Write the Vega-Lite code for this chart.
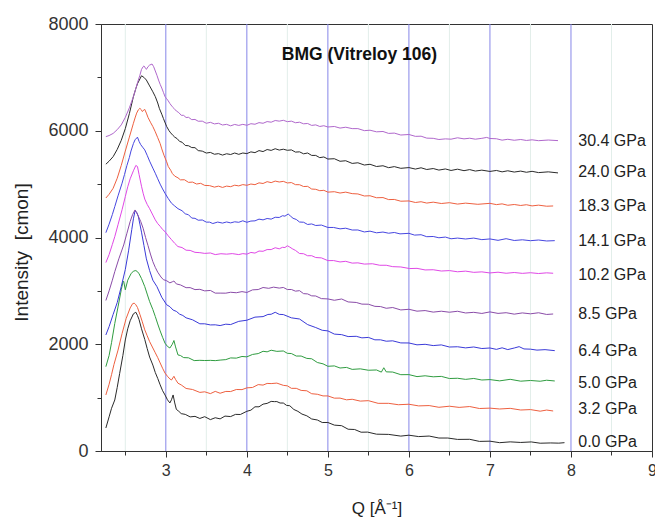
{
"$schema": "https://vega.github.io/schema/vega-lite/v6.json",
"width": 551, "height": 427,
"autosize": "none",
"padding": {"left": 101, "top": 24, "right": 3, "bottom": 72},
"background": "white",
"config": {"font": "Liberation Sans", "view": {"stroke": "#333333", "strokeWidth": 1}},
"resolve": {"axis": {"x": "independent", "y": "independent"}},
"datasets": {
"curves": [
{"p":"0.0","q":2.26,"i":431},{"p":"0.0","q":2.30,"i":640},{"p":"0.0","q":2.33,"i":800},{"p":"0.0","q":2.37,"i":956},{"p":"0.0","q":2.40,"i":1190},{"p":"0.0","q":2.43,"i":1450},{"p":"0.0","q":2.47,"i":1790},{"p":"0.0","q":2.50,"i":2080},{"p":"0.0","q":2.53,"i":2290},{"p":"0.0","q":2.56,"i":2440},{"p":"0.0","q":2.60,"i":2570},{"p":"0.0","q":2.63,"i":2600},{"p":"0.0","q":2.65,"i":2540},{"p":"0.0","q":2.67,"i":2460},{"p":"0.0","q":2.70,"i":2290},{"p":"0.0","q":2.74,"i":2090},{"p":"0.0","q":2.77,"i":1920},{"p":"0.0","q":2.80,"i":1760},{"p":"0.0","q":2.84,"i":1610},{"p":"0.0","q":2.87,"i":1470},{"p":"0.0","q":2.90,"i":1360},{"p":"0.0","q":2.93,"i":1240},{"p":"0.0","q":2.96,"i":1130},{"p":"0.0","q":2.99,"i":1050},{"p":"0.0","q":3.02,"i":960},{"p":"0.0","q":3.05,"i":900},{"p":"0.0","q":3.07,"i":960},{"p":"0.0","q":3.09,"i":1050},{"p":"0.0","q":3.11,"i":900},{"p":"0.0","q":3.13,"i":780},{"p":"0.0","q":3.16,"i":744},{"p":"0.0","q":3.19,"i":700},{"p":"0.0","q":3.24,"i":686},{"p":"0.0","q":3.30,"i":639},{"p":"0.0","q":3.36,"i":649},{"p":"0.0","q":3.42,"i":610},{"p":"0.0","q":3.48,"i":643},{"p":"0.0","q":3.55,"i":588},{"p":"0.0","q":3.61,"i":623},{"p":"0.0","q":3.67,"i":602},{"p":"0.0","q":3.73,"i":654},{"p":"0.0","q":3.80,"i":645},{"p":"0.0","q":3.86,"i":686},{"p":"0.0","q":3.92,"i":684},{"p":"0.0","q":4.00,"i":744},{"p":"0.0","q":4.05,"i":765},{"p":"0.0","q":4.10,"i":828},{"p":"0.0","q":4.15,"i":828},{"p":"0.0","q":4.20,"i":878},{"p":"0.0","q":4.25,"i":892},{"p":"0.0","q":4.30,"i":929},{"p":"0.0","q":4.34,"i":925},{"p":"0.0","q":4.37,"i":926},{"p":"0.0","q":4.41,"i":899},{"p":"0.0","q":4.45,"i":899},{"p":"0.0","q":4.49,"i":855},{"p":"0.0","q":4.53,"i":848},{"p":"0.0","q":4.58,"i":778},{"p":"0.0","q":4.63,"i":743},{"p":"0.0","q":4.68,"i":692},{"p":"0.0","q":4.74,"i":659},{"p":"0.0","q":4.80,"i":600},{"p":"0.0","q":4.87,"i":581},{"p":"0.0","q":4.93,"i":534},{"p":"0.0","q":5.00,"i":534},{"p":"0.0","q":5.08,"i":485},{"p":"0.0","q":5.17,"i":474},{"p":"0.0","q":5.25,"i":408},{"p":"0.0","q":5.33,"i":403},{"p":"0.0","q":5.41,"i":352},{"p":"0.0","q":5.49,"i":354},{"p":"0.0","q":5.60,"i":315},{"p":"0.0","q":5.75,"i":311},{"p":"0.0","q":5.90,"i":279},{"p":"0.0","q":6.00,"i":296},{"p":"0.0","q":6.12,"i":270},{"p":"0.0","q":6.25,"i":280},{"p":"0.0","q":6.37,"i":243},{"p":"0.0","q":6.48,"i":243},{"p":"0.0","q":6.60,"i":217},{"p":"0.0","q":6.75,"i":219},{"p":"0.0","q":6.87,"i":180},{"p":"0.0","q":7.00,"i":184},{"p":"0.0","q":7.12,"i":156},{"p":"0.0","q":7.25,"i":171},{"p":"0.0","q":7.38,"i":160},{"p":"0.0","q":7.51,"i":170},{"p":"0.0","q":7.62,"i":146},{"p":"0.0","q":7.75,"i":151},{"p":"0.0","q":7.85,"i":147},{"p":"0.0","q":7.92,"i":156},

{"p":"3.2","q":2.26,"i":1050},{"p":"3.2","q":2.30,"i":1250},{"p":"3.2","q":2.33,"i":1430},{"p":"3.2","q":2.36,"i":1620},{"p":"3.2","q":2.41,"i":1890},{"p":"3.2","q":2.46,"i":2200},{"p":"3.2","q":2.51,"i":2480},{"p":"3.2","q":2.56,"i":2680},{"p":"3.2","q":2.59,"i":2760},{"p":"3.2","q":2.61,"i":2770},{"p":"3.2","q":2.63,"i":2740},{"p":"3.2","q":2.65,"i":2690},{"p":"3.2","q":2.68,"i":2560},{"p":"3.2","q":2.71,"i":2420},{"p":"3.2","q":2.74,"i":2270},{"p":"3.2","q":2.77,"i":2160},{"p":"3.2","q":2.80,"i":2050},{"p":"3.2","q":2.84,"i":1930},{"p":"3.2","q":2.87,"i":1840},{"p":"3.2","q":2.90,"i":1750},{"p":"3.2","q":2.93,"i":1650},{"p":"3.2","q":2.96,"i":1550},{"p":"3.2","q":2.99,"i":1460},{"p":"3.2","q":3.02,"i":1400},{"p":"3.2","q":3.05,"i":1350},{"p":"3.2","q":3.07,"i":1330},{"p":"3.2","q":3.10,"i":1400},{"p":"3.2","q":3.12,"i":1340},{"p":"3.2","q":3.15,"i":1270},{"p":"3.2","q":3.19,"i":1238},{"p":"3.2","q":3.25,"i":1172},{"p":"3.2","q":3.33,"i":1152},{"p":"3.2","q":3.42,"i":1098},{"p":"3.2","q":3.48,"i":1109},{"p":"3.2","q":3.55,"i":1075},{"p":"3.2","q":3.61,"i":1117},{"p":"3.2","q":3.67,"i":1082},{"p":"3.2","q":3.74,"i":1116},{"p":"3.2","q":3.80,"i":1114},{"p":"3.2","q":3.87,"i":1152},{"p":"3.2","q":3.94,"i":1150},{"p":"3.2","q":4.00,"i":1183},{"p":"3.2","q":4.07,"i":1190},{"p":"3.2","q":4.14,"i":1244},{"p":"3.2","q":4.20,"i":1235},{"p":"3.2","q":4.25,"i":1266},{"p":"3.2","q":4.30,"i":1263},{"p":"3.2","q":4.37,"i":1272},{"p":"3.2","q":4.45,"i":1230},{"p":"3.2","q":4.50,"i":1221},{"p":"3.2","q":4.55,"i":1174},{"p":"3.2","q":4.61,"i":1174},{"p":"3.2","q":4.67,"i":1135},{"p":"3.2","q":4.74,"i":1128},{"p":"3.2","q":4.80,"i":1073},{"p":"3.2","q":4.87,"i":1063},{"p":"3.2","q":4.94,"i":1032},{"p":"3.2","q":5.00,"i":1032},{"p":"3.2","q":5.08,"i":990},{"p":"3.2","q":5.15,"i":991},{"p":"3.2","q":5.23,"i":959},{"p":"3.2","q":5.30,"i":969},{"p":"3.2","q":5.40,"i":935},{"p":"3.2","q":5.50,"i":943},{"p":"3.2","q":5.62,"i":893},{"p":"3.2","q":5.75,"i":893},{"p":"3.2","q":5.87,"i":867},{"p":"3.2","q":6.00,"i":876},{"p":"3.2","q":6.12,"i":845},{"p":"3.2","q":6.25,"i":851},{"p":"3.2","q":6.37,"i":819},{"p":"3.2","q":6.50,"i":839},{"p":"3.2","q":6.62,"i":817},{"p":"3.2","q":6.75,"i":833},{"p":"3.2","q":6.87,"i":796},{"p":"3.2","q":7.00,"i":803},{"p":"3.2","q":7.12,"i":787},{"p":"3.2","q":7.25,"i":799},{"p":"3.2","q":7.38,"i":768},{"p":"3.2","q":7.50,"i":776},{"p":"3.2","q":7.62,"i":746},{"p":"3.2","q":7.70,"i":767},{"p":"3.2","q":7.78,"i":750},

{"p":"5.0","q":2.26,"i":1580},{"p":"5.0","q":2.30,"i":1790},{"p":"5.0","q":2.33,"i":2030},{"p":"5.0","q":2.37,"i":2390},{"p":"5.0","q":2.41,"i":2700},{"p":"5.0","q":2.45,"i":3020},{"p":"5.0","q":2.47,"i":3160},{"p":"5.0","q":2.48,"i":3180},{"p":"5.0","q":2.50,"i":3020},{"p":"5.0","q":2.53,"i":3200},{"p":"5.0","q":2.57,"i":3320},{"p":"5.0","q":2.60,"i":3370},{"p":"5.0","q":2.63,"i":3380},{"p":"5.0","q":2.65,"i":3360},{"p":"5.0","q":2.67,"i":3320},{"p":"5.0","q":2.70,"i":3230},{"p":"5.0","q":2.74,"i":3080},{"p":"5.0","q":2.77,"i":2940},{"p":"5.0","q":2.80,"i":2800},{"p":"5.0","q":2.84,"i":2650},{"p":"5.0","q":2.87,"i":2520},{"p":"5.0","q":2.90,"i":2380},{"p":"5.0","q":2.93,"i":2250},{"p":"5.0","q":2.96,"i":2130},{"p":"5.0","q":2.99,"i":2020},{"p":"5.0","q":3.02,"i":1960},{"p":"5.0","q":3.05,"i":1930},{"p":"5.0","q":3.08,"i":2000},{"p":"5.0","q":3.10,"i":2070},{"p":"5.0","q":3.12,"i":1950},{"p":"5.0","q":3.15,"i":1800},{"p":"5.0","q":3.18,"i":1789},{"p":"5.0","q":3.22,"i":1750},{"p":"5.0","q":3.28,"i":1746},{"p":"5.0","q":3.35,"i":1694},{"p":"5.0","q":3.42,"i":1699},{"p":"5.0","q":3.48,"i":1695},{"p":"5.0","q":3.55,"i":1698},{"p":"5.0","q":3.61,"i":1693},{"p":"5.0","q":3.67,"i":1703},{"p":"5.0","q":3.74,"i":1712},{"p":"5.0","q":3.80,"i":1744},{"p":"5.0","q":3.87,"i":1740},{"p":"5.0","q":3.94,"i":1771},{"p":"5.0","q":4.00,"i":1764},{"p":"5.0","q":4.07,"i":1809},{"p":"5.0","q":4.14,"i":1825},{"p":"5.0","q":4.20,"i":1868},{"p":"5.0","q":4.25,"i":1858},{"p":"5.0","q":4.30,"i":1888},{"p":"5.0","q":4.37,"i":1867},{"p":"5.0","q":4.45,"i":1874},{"p":"5.0","q":4.50,"i":1830},{"p":"5.0","q":4.55,"i":1826},{"p":"5.0","q":4.61,"i":1779},{"p":"5.0","q":4.67,"i":1779},{"p":"5.0","q":4.74,"i":1735},{"p":"5.0","q":4.80,"i":1728},{"p":"5.0","q":4.87,"i":1658},{"p":"5.0","q":4.94,"i":1633},{"p":"5.0","q":5.00,"i":1587},{"p":"5.0","q":5.08,"i":1594},{"p":"5.0","q":5.15,"i":1555},{"p":"5.0","q":5.23,"i":1566},{"p":"5.0","q":5.30,"i":1529},{"p":"5.0","q":5.40,"i":1539},{"p":"5.0","q":5.50,"i":1513},{"p":"5.0","q":5.60,"i":1518},{"p":"5.0","q":5.66,"i":1478},{"p":"5.0","q":5.69,"i":1560},{"p":"5.0","q":5.72,"i":1483},{"p":"5.0","q":5.80,"i":1479},{"p":"5.0","q":5.90,"i":1430},{"p":"5.0","q":6.00,"i":1431},{"p":"5.0","q":6.10,"i":1394},{"p":"5.0","q":6.20,"i":1409},{"p":"5.0","q":6.30,"i":1390},{"p":"5.0","q":6.40,"i":1398},{"p":"5.0","q":6.50,"i":1358},{"p":"5.0","q":6.60,"i":1363},{"p":"5.0","q":6.70,"i":1342},{"p":"5.0","q":6.80,"i":1359},{"p":"5.0","q":6.90,"i":1330},{"p":"5.0","q":7.00,"i":1338},{"p":"5.0","q":7.12,"i":1314},{"p":"5.0","q":7.25,"i":1343},{"p":"5.0","q":7.38,"i":1308},{"p":"5.0","q":7.50,"i":1321},{"p":"5.0","q":7.62,"i":1307},{"p":"5.0","q":7.70,"i":1326},{"p":"5.0","q":7.80,"i":1312},

{"p":"6.4","q":2.26,"i":2174},{"p":"6.4","q":2.30,"i":2330},{"p":"6.4","q":2.35,"i":2560},{"p":"6.4","q":2.40,"i":2780},{"p":"6.4","q":2.45,"i":3080},{"p":"6.4","q":2.50,"i":3400},{"p":"6.4","q":2.54,"i":3750},{"p":"6.4","q":2.58,"i":4150},{"p":"6.4","q":2.60,"i":4350},{"p":"6.4","q":2.62,"i":4500},{"p":"6.4","q":2.64,"i":4470},{"p":"6.4","q":2.66,"i":4400},{"p":"6.4","q":2.68,"i":4250},{"p":"6.4","q":2.70,"i":4100},{"p":"6.4","q":2.73,"i":3850},{"p":"6.4","q":2.76,"i":3600},{"p":"6.4","q":2.80,"i":3380},{"p":"6.4","q":2.84,"i":3200},{"p":"6.4","q":2.89,"i":3080},{"p":"6.4","q":2.95,"i":2880},{"p":"6.4","q":3.01,"i":2740},{"p":"6.4","q":3.05,"i":2704},{"p":"6.4","q":3.09,"i":2640},{"p":"6.4","q":3.13,"i":2616},{"p":"6.4","q":3.17,"i":2564},{"p":"6.4","q":3.21,"i":2539},{"p":"6.4","q":3.25,"i":2495},{"p":"6.4","q":3.33,"i":2458},{"p":"6.4","q":3.42,"i":2383},{"p":"6.4","q":3.48,"i":2383},{"p":"6.4","q":3.55,"i":2362},{"p":"6.4","q":3.61,"i":2364},{"p":"6.4","q":3.67,"i":2350},{"p":"6.4","q":3.74,"i":2376},{"p":"6.4","q":3.80,"i":2369},{"p":"6.4","q":3.90,"i":2429},{"p":"6.4","q":4.00,"i":2450},{"p":"6.4","q":4.10,"i":2508},{"p":"6.4","q":4.20,"i":2518},{"p":"6.4","q":4.26,"i":2558},{"p":"6.4","q":4.30,"i":2562},{"p":"6.4","q":4.35,"i":2599},{"p":"6.4","q":4.40,"i":2560},{"p":"6.4","q":4.45,"i":2556},{"p":"6.4","q":4.55,"i":2495},{"p":"6.4","q":4.65,"i":2473},{"p":"6.4","q":4.75,"i":2368},{"p":"6.4","q":4.85,"i":2313},{"p":"6.4","q":4.93,"i":2262},{"p":"6.4","q":5.00,"i":2250},{"p":"6.4","q":5.08,"i":2190},{"p":"6.4","q":5.17,"i":2180},{"p":"6.4","q":5.25,"i":2144},{"p":"6.4","q":5.35,"i":2149},{"p":"6.4","q":5.42,"i":2120},{"p":"6.4","q":5.50,"i":2128},{"p":"6.4","q":5.58,"i":2083},{"p":"6.4","q":5.65,"i":2083},{"p":"6.4","q":5.72,"i":2057},{"p":"6.4","q":5.80,"i":2064},{"p":"6.4","q":5.90,"i":2025},{"p":"6.4","q":6.00,"i":2024},{"p":"6.4","q":6.10,"i":1989},{"p":"6.4","q":6.20,"i":1999},{"p":"6.4","q":6.30,"i":1975},{"p":"6.4","q":6.40,"i":1988},{"p":"6.4","q":6.50,"i":1948},{"p":"6.4","q":6.60,"i":1953},{"p":"6.4","q":6.70,"i":1932},{"p":"6.4","q":6.80,"i":1949},{"p":"6.4","q":6.90,"i":1920},{"p":"6.4","q":7.00,"i":1930},{"p":"6.4","q":7.08,"i":1904},{"p":"6.4","q":7.15,"i":1933},{"p":"6.4","q":7.22,"i":1900},{"p":"6.4","q":7.30,"i":1930},{"p":"6.4","q":7.36,"i":1955},{"p":"6.4","q":7.42,"i":1912},{"p":"6.4","q":7.50,"i":1908},{"p":"6.4","q":7.58,"i":1890},{"p":"6.4","q":7.68,"i":1899},{"p":"6.4","q":7.80,"i":1880},

{"p":"8.5","q":2.26,"i":2820},{"p":"8.5","q":2.30,"i":3000},{"p":"8.5","q":2.34,"i":3200},{"p":"8.5","q":2.37,"i":3360},{"p":"8.5","q":2.42,"i":3600},{"p":"8.5","q":2.48,"i":3860},{"p":"8.5","q":2.52,"i":4080},{"p":"8.5","q":2.56,"i":4300},{"p":"8.5","q":2.59,"i":4430},{"p":"8.5","q":2.62,"i":4516},{"p":"8.5","q":2.64,"i":4470},{"p":"8.5","q":2.66,"i":4400},{"p":"8.5","q":2.69,"i":4300},{"p":"8.5","q":2.72,"i":4173},{"p":"8.5","q":2.75,"i":4000},{"p":"8.5","q":2.78,"i":3850},{"p":"8.5","q":2.81,"i":3690},{"p":"8.5","q":2.84,"i":3548},{"p":"8.5","q":2.87,"i":3440},{"p":"8.5","q":2.90,"i":3350},{"p":"8.5","q":2.94,"i":3260},{"p":"8.5","q":2.97,"i":3210},{"p":"8.5","q":3.01,"i":3190},{"p":"8.5","q":3.05,"i":3150},{"p":"8.5","q":3.08,"i":3170},{"p":"8.5","q":3.10,"i":3185},{"p":"8.5","q":3.13,"i":3130},{"p":"8.5","q":3.18,"i":3112},{"p":"8.5","q":3.25,"i":3060},{"p":"8.5","q":3.30,"i":3061},{"p":"8.5","q":3.36,"i":3024},{"p":"8.5","q":3.42,"i":3029},{"p":"8.5","q":3.48,"i":3000},{"p":"8.5","q":3.55,"i":3008},{"p":"8.5","q":3.61,"i":2958},{"p":"8.5","q":3.67,"i":2958},{"p":"8.5","q":3.74,"i":2957},{"p":"8.5","q":3.80,"i":2974},{"p":"8.5","q":3.87,"i":2965},{"p":"8.5","q":3.94,"i":2986},{"p":"8.5","q":4.00,"i":2970},{"p":"8.5","q":4.07,"i":3019},{"p":"8.5","q":4.14,"i":3025},{"p":"8.5","q":4.20,"i":3063},{"p":"8.5","q":4.27,"i":3048},{"p":"8.5","q":4.33,"i":3070},{"p":"8.5","q":4.40,"i":3052},{"p":"8.5","q":4.45,"i":3064},{"p":"8.5","q":4.50,"i":3025},{"p":"8.5","q":4.55,"i":3026},{"p":"8.5","q":4.60,"i":2995},{"p":"8.5","q":4.65,"i":3004},{"p":"8.5","q":4.70,"i":2948},{"p":"8.5","q":4.75,"i":2943},{"p":"8.5","q":4.80,"i":2907},{"p":"8.5","q":4.85,"i":2904},{"p":"8.5","q":4.92,"i":2855},{"p":"8.5","q":5.00,"i":2849},{"p":"8.5","q":5.08,"i":2824},{"p":"8.5","q":5.17,"i":2848},{"p":"8.5","q":5.25,"i":2793},{"p":"8.5","q":5.35,"i":2783},{"p":"8.5","q":5.42,"i":2752},{"p":"8.5","q":5.50,"i":2750},{"p":"8.5","q":5.58,"i":2710},{"p":"8.5","q":5.65,"i":2706},{"p":"8.5","q":5.72,"i":2674},{"p":"8.5","q":5.80,"i":2688},{"p":"8.5","q":5.90,"i":2643},{"p":"8.5","q":6.00,"i":2655},{"p":"8.5","q":6.10,"i":2620},{"p":"8.5","q":6.20,"i":2631},{"p":"8.5","q":6.30,"i":2602},{"p":"8.5","q":6.40,"i":2619},{"p":"8.5","q":6.50,"i":2600},{"p":"8.5","q":6.60,"i":2618},{"p":"8.5","q":6.70,"i":2586},{"p":"8.5","q":6.80,"i":2598},{"p":"8.5","q":6.90,"i":2577},{"p":"8.5","q":7.00,"i":2606},{"p":"8.5","q":7.10,"i":2578},{"p":"8.5","q":7.20,"i":2591},{"p":"8.5","q":7.30,"i":2564},{"p":"8.5","q":7.40,"i":2587},{"p":"8.5","q":7.50,"i":2570},{"p":"8.5","q":7.60,"i":2590},{"p":"8.5","q":7.70,"i":2558},{"p":"8.5","q":7.78,"i":2567},

{"p":"10.2","q":2.26,"i":3530},{"p":"10.2","q":2.30,"i":3680},{"p":"10.2","q":2.34,"i":3870},{"p":"10.2","q":2.37,"i":4016},{"p":"10.2","q":2.41,"i":4240},{"p":"10.2","q":2.46,"i":4520},{"p":"10.2","q":2.50,"i":4766},{"p":"10.2","q":2.53,"i":4950},{"p":"10.2","q":2.56,"i":5100},{"p":"10.2","q":2.60,"i":5250},{"p":"10.2","q":2.63,"i":5350},{"p":"10.2","q":2.65,"i":5330},{"p":"10.2","q":2.67,"i":5180},{"p":"10.2","q":2.70,"i":4960},{"p":"10.2","q":2.72,"i":4830},{"p":"10.2","q":2.74,"i":4720},{"p":"10.2","q":2.77,"i":4620},{"p":"10.2","q":2.80,"i":4540},{"p":"10.2","q":2.84,"i":4420},{"p":"10.2","q":2.87,"i":4330},{"p":"10.2","q":2.90,"i":4260},{"p":"10.2","q":2.93,"i":4210},{"p":"10.2","q":2.96,"i":4150},{"p":"10.2","q":2.99,"i":4110},{"p":"10.2","q":3.03,"i":4030},{"p":"10.2","q":3.07,"i":3960},{"p":"10.2","q":3.11,"i":3890},{"p":"10.2","q":3.15,"i":3830},{"p":"10.2","q":3.20,"i":3812},{"p":"10.2","q":3.25,"i":3762},{"p":"10.2","q":3.30,"i":3758},{"p":"10.2","q":3.36,"i":3722},{"p":"10.2","q":3.42,"i":3716},{"p":"10.2","q":3.48,"i":3702},{"p":"10.2","q":3.55,"i":3710},{"p":"10.2","q":3.61,"i":3680},{"p":"10.2","q":3.68,"i":3696},{"p":"10.2","q":3.75,"i":3688},{"p":"10.2","q":3.82,"i":3698},{"p":"10.2","q":3.90,"i":3680},{"p":"10.2","q":3.95,"i":3698},{"p":"10.2","q":4.00,"i":3688},{"p":"10.2","q":4.05,"i":3720},{"p":"10.2","q":4.10,"i":3708},{"p":"10.2","q":4.15,"i":3746},{"p":"10.2","q":4.20,"i":3742},{"p":"10.2","q":4.25,"i":3774},{"p":"10.2","q":4.30,"i":3774},{"p":"10.2","q":4.35,"i":3808},{"p":"10.2","q":4.40,"i":3788},{"p":"10.2","q":4.44,"i":3816},{"p":"10.2","q":4.47,"i":3812},{"p":"10.2","q":4.50,"i":3845},{"p":"10.2","q":4.53,"i":3820},{"p":"10.2","q":4.56,"i":3790},{"p":"10.2","q":4.60,"i":3758},{"p":"10.2","q":4.65,"i":3700},{"p":"10.2","q":4.70,"i":3696},{"p":"10.2","q":4.75,"i":3658},{"p":"10.2","q":4.80,"i":3659},{"p":"10.2","q":4.85,"i":3625},{"p":"10.2","q":4.92,"i":3618},{"p":"10.2","q":5.00,"i":3567},{"p":"10.2","q":5.07,"i":3568},{"p":"10.2","q":5.15,"i":3542},{"p":"10.2","q":5.22,"i":3554},{"p":"10.2","q":5.30,"i":3520},{"p":"10.2","q":5.37,"i":3525},{"p":"10.2","q":5.45,"i":3502},{"p":"10.2","q":5.55,"i":3508},{"p":"10.2","q":5.64,"i":3480},{"p":"10.2","q":5.72,"i":3480},{"p":"10.2","q":5.80,"i":3454},{"p":"10.2","q":5.90,"i":3448},{"p":"10.2","q":6.01,"i":3418},{"p":"10.2","q":6.10,"i":3422},{"p":"10.2","q":6.20,"i":3392},{"p":"10.2","q":6.30,"i":3396},{"p":"10.2","q":6.40,"i":3372},{"p":"10.2","q":6.50,"i":3380},{"p":"10.2","q":6.60,"i":3358},{"p":"10.2","q":6.70,"i":3370},{"p":"10.2","q":6.80,"i":3347},{"p":"10.2","q":6.90,"i":3356},{"p":"10.2","q":7.00,"i":3336},{"p":"10.2","q":7.10,"i":3350},{"p":"10.2","q":7.20,"i":3330},{"p":"10.2","q":7.30,"i":3344},{"p":"10.2","q":7.40,"i":3328},{"p":"10.2","q":7.50,"i":3340},{"p":"10.2","q":7.60,"i":3325},{"p":"10.2","q":7.70,"i":3338},{"p":"10.2","q":7.78,"i":3330},

{"p":"14.1","q":2.26,"i":4090},{"p":"14.1","q":2.30,"i":4250},{"p":"14.1","q":2.34,"i":4430},{"p":"14.1","q":2.37,"i":4578},{"p":"14.1","q":2.41,"i":4780},{"p":"14.1","q":2.46,"i":5017},{"p":"14.1","q":2.49,"i":5180},{"p":"14.1","q":2.52,"i":5350},{"p":"14.1","q":2.55,"i":5500},{"p":"14.1","q":2.57,"i":5620},{"p":"14.1","q":2.60,"i":5760},{"p":"14.1","q":2.62,"i":5830},{"p":"14.1","q":2.65,"i":5880},{"p":"14.1","q":2.67,"i":5800},{"p":"14.1","q":2.69,"i":5740},{"p":"14.1","q":2.72,"i":5680},{"p":"14.1","q":2.74,"i":5641},{"p":"14.1","q":2.77,"i":5540},{"p":"14.1","q":2.80,"i":5430},{"p":"14.1","q":2.84,"i":5300},{"p":"14.1","q":2.87,"i":5204},{"p":"14.1","q":2.90,"i":5100},{"p":"14.1","q":2.93,"i":5000},{"p":"14.1","q":2.96,"i":4910},{"p":"14.1","q":2.99,"i":4829},{"p":"14.1","q":3.03,"i":4730},{"p":"14.1","q":3.07,"i":4642},{"p":"14.1","q":3.11,"i":4590},{"p":"14.1","q":3.15,"i":4540},{"p":"14.1","q":3.20,"i":4502},{"p":"14.1","q":3.24,"i":4444},{"p":"14.1","q":3.28,"i":4426},{"p":"14.1","q":3.32,"i":4364},{"p":"14.1","q":3.36,"i":4359},{"p":"14.1","q":3.40,"i":4324},{"p":"14.1","q":3.45,"i":4328},{"p":"14.1","q":3.50,"i":4288},{"p":"14.1","q":3.54,"i":4288},{"p":"14.1","q":3.58,"i":4262},{"p":"14.1","q":3.64,"i":4289},{"p":"14.1","q":3.70,"i":4270},{"p":"14.1","q":3.75,"i":4291},{"p":"14.1","q":3.80,"i":4274},{"p":"14.1","q":3.85,"i":4294},{"p":"14.1","q":3.90,"i":4285},{"p":"14.1","q":3.95,"i":4313},{"p":"14.1","q":4.00,"i":4285},{"p":"14.1","q":4.05,"i":4308},{"p":"14.1","q":4.10,"i":4312},{"p":"14.1","q":4.15,"i":4344},{"p":"14.1","q":4.20,"i":4330},{"p":"14.1","q":4.25,"i":4356},{"p":"14.1","q":4.30,"i":4344},{"p":"14.1","q":4.35,"i":4379},{"p":"14.1","q":4.40,"i":4375},{"p":"14.1","q":4.44,"i":4408},{"p":"14.1","q":4.47,"i":4400},{"p":"14.1","q":4.51,"i":4440},{"p":"14.1","q":4.54,"i":4400},{"p":"14.1","q":4.57,"i":4360},{"p":"14.1","q":4.61,"i":4338},{"p":"14.1","q":4.65,"i":4290},{"p":"14.1","q":4.70,"i":4286},{"p":"14.1","q":4.75,"i":4244},{"p":"14.1","q":4.80,"i":4254},{"p":"14.1","q":4.85,"i":4225},{"p":"14.1","q":4.92,"i":4233},{"p":"14.1","q":5.00,"i":4188},{"p":"14.1","q":5.07,"i":4188},{"p":"14.1","q":5.15,"i":4162},{"p":"14.1","q":5.22,"i":4174},{"p":"14.1","q":5.30,"i":4140},{"p":"14.1","q":5.37,"i":4141},{"p":"14.1","q":5.45,"i":4104},{"p":"14.1","q":5.52,"i":4119},{"p":"14.1","q":5.60,"i":4088},{"p":"14.1","q":5.68,"i":4102},{"p":"14.1","q":5.75,"i":4080},{"p":"14.1","q":5.82,"i":4094},{"p":"14.1","q":5.89,"i":4068},{"p":"14.1","q":6.00,"i":4078},{"p":"14.1","q":6.07,"i":4045},{"p":"14.1","q":6.15,"i":4052},{"p":"14.1","q":6.22,"i":4015},{"p":"14.1","q":6.30,"i":4019},{"p":"14.1","q":6.37,"i":3995},{"p":"14.1","q":6.45,"i":4008},{"p":"14.1","q":6.52,"i":3976},{"p":"14.1","q":6.60,"i":3989},{"p":"14.1","q":6.70,"i":3972},{"p":"14.1","q":6.80,"i":3989},{"p":"14.1","q":6.90,"i":3960},{"p":"14.1","q":7.00,"i":3973},{"p":"14.1","q":7.10,"i":3947},{"p":"14.1","q":7.20,"i":3978},{"p":"14.1","q":7.30,"i":3944},{"p":"14.1","q":7.40,"i":3957},{"p":"14.1","q":7.50,"i":3940},{"p":"14.1","q":7.60,"i":3953},{"p":"14.1","q":7.70,"i":3935},{"p":"14.1","q":7.80,"i":3941},

{"p":"18.3","q":2.26,"i":4740},{"p":"18.3","q":2.30,"i":4810},{"p":"18.3","q":2.35,"i":4923},{"p":"18.3","q":2.40,"i":5110},{"p":"18.3","q":2.45,"i":5350},{"p":"18.3","q":2.50,"i":5620},{"p":"18.3","q":2.55,"i":5880},{"p":"18.3","q":2.60,"i":6140},{"p":"18.3","q":2.62,"i":6240},{"p":"18.3","q":2.64,"i":6330},{"p":"18.3","q":2.66,"i":6390},{"p":"18.3","q":2.68,"i":6420},{"p":"18.3","q":2.70,"i":6390},{"p":"18.3","q":2.71,"i":6360},{"p":"18.3","q":2.73,"i":6390},{"p":"18.3","q":2.74,"i":6400},{"p":"18.3","q":2.76,"i":6330},{"p":"18.3","q":2.78,"i":6250},{"p":"18.3","q":2.81,"i":6160},{"p":"18.3","q":2.84,"i":6078},{"p":"18.3","q":2.87,"i":5980},{"p":"18.3","q":2.90,"i":5870},{"p":"18.3","q":2.93,"i":5760},{"p":"18.3","q":2.95,"i":5660},{"p":"18.3","q":2.98,"i":5530},{"p":"18.3","q":3.01,"i":5420},{"p":"18.3","q":3.03,"i":5330},{"p":"18.3","q":3.06,"i":5260},{"p":"18.3","q":3.08,"i":5200},{"p":"18.3","q":3.11,"i":5150},{"p":"18.3","q":3.15,"i":5118},{"p":"18.3","q":3.18,"i":5080},{"p":"18.3","q":3.23,"i":5082},{"p":"18.3","q":3.28,"i":5033},{"p":"18.3","q":3.33,"i":5038},{"p":"18.3","q":3.38,"i":5002},{"p":"18.3","q":3.43,"i":5015},{"p":"18.3","q":3.48,"i":4976},{"p":"18.3","q":3.54,"i":4972},{"p":"18.3","q":3.60,"i":4944},{"p":"18.3","q":3.65,"i":4962},{"p":"18.3","q":3.70,"i":4938},{"p":"18.3","q":3.75,"i":4963},{"p":"18.3","q":3.80,"i":4952},{"p":"18.3","q":3.85,"i":4980},{"p":"18.3","q":3.90,"i":4967},{"p":"18.3","q":3.95,"i":4991},{"p":"18.3","q":4.00,"i":4978},{"p":"18.3","q":4.05,"i":5002},{"p":"18.3","q":4.10,"i":4990},{"p":"18.3","q":4.15,"i":5024},{"p":"18.3","q":4.20,"i":5012},{"p":"18.3","q":4.25,"i":5046},{"p":"18.3","q":4.30,"i":5028},{"p":"18.3","q":4.35,"i":5057},{"p":"18.3","q":4.40,"i":5040},{"p":"18.3","q":4.45,"i":5052},{"p":"18.3","q":4.50,"i":5022},{"p":"18.3","q":4.55,"i":5029},{"p":"18.3","q":4.60,"i":4990},{"p":"18.3","q":4.65,"i":4989},{"p":"18.3","q":4.70,"i":4955},{"p":"18.3","q":4.75,"i":4958},{"p":"18.3","q":4.80,"i":4908},{"p":"18.3","q":4.85,"i":4903},{"p":"18.3","q":4.90,"i":4877},{"p":"18.3","q":4.95,"i":4884},{"p":"18.3","q":5.00,"i":4850},{"p":"18.3","q":5.08,"i":4858},{"p":"18.3","q":5.15,"i":4833},{"p":"18.3","q":5.22,"i":4850},{"p":"18.3","q":5.30,"i":4822},{"p":"18.3","q":5.37,"i":4816},{"p":"18.3","q":5.45,"i":4778},{"p":"18.3","q":5.52,"i":4782},{"p":"18.3","q":5.60,"i":4745},{"p":"18.3","q":5.68,"i":4748},{"p":"18.3","q":5.75,"i":4710},{"p":"18.3","q":5.82,"i":4713},{"p":"18.3","q":5.90,"i":4680},{"p":"18.3","q":6.00,"i":4685},{"p":"18.3","q":6.08,"i":4656},{"p":"18.3","q":6.15,"i":4670},{"p":"18.3","q":6.22,"i":4645},{"p":"18.3","q":6.30,"i":4662},{"p":"18.3","q":6.40,"i":4637},{"p":"18.3","q":6.50,"i":4652},{"p":"18.3","q":6.60,"i":4626},{"p":"18.3","q":6.70,"i":4644},{"p":"18.3","q":6.85,"i":4622},{"p":"18.3","q":7.00,"i":4640},{"p":"18.3","q":7.08,"i":4616},{"p":"18.3","q":7.15,"i":4630},{"p":"18.3","q":7.22,"i":4604},{"p":"18.3","q":7.30,"i":4618},{"p":"18.3","q":7.38,"i":4600},{"p":"18.3","q":7.45,"i":4614},{"p":"18.3","q":7.52,"i":4592},{"p":"18.3","q":7.60,"i":4606},{"p":"18.3","q":7.70,"i":4586},{"p":"18.3","q":7.78,"i":4591},

{"p":"24.0","q":2.26,"i":5373},{"p":"24.0","q":2.30,"i":5430},{"p":"24.0","q":2.35,"i":5515},{"p":"24.0","q":2.40,"i":5650},{"p":"24.0","q":2.45,"i":5820},{"p":"24.0","q":2.50,"i":6040},{"p":"24.0","q":2.55,"i":6320},{"p":"24.0","q":2.60,"i":6640},{"p":"24.0","q":2.63,"i":6790},{"p":"24.0","q":2.65,"i":6880},{"p":"24.0","q":2.68,"i":6970},{"p":"24.0","q":2.70,"i":7030},{"p":"24.0","q":2.72,"i":7010},{"p":"24.0","q":2.73,"i":7000},{"p":"24.0","q":2.76,"i":6950},{"p":"24.0","q":2.80,"i":6840},{"p":"24.0","q":2.84,"i":6730},{"p":"24.0","q":2.87,"i":6640},{"p":"24.0","q":2.90,"i":6520},{"p":"24.0","q":2.92,"i":6420},{"p":"24.0","q":2.95,"i":6310},{"p":"24.0","q":2.97,"i":6230},{"p":"24.0","q":3.01,"i":6080},{"p":"24.0","q":3.04,"i":6000},{"p":"24.0","q":3.06,"i":5960},{"p":"24.0","q":3.09,"i":5910},{"p":"24.0","q":3.11,"i":5880},{"p":"24.0","q":3.14,"i":5852},{"p":"24.0","q":3.17,"i":5800},{"p":"24.0","q":3.20,"i":5786},{"p":"24.0","q":3.24,"i":5724},{"p":"24.0","q":3.28,"i":5719},{"p":"24.0","q":3.32,"i":5685},{"p":"24.0","q":3.36,"i":5683},{"p":"24.0","q":3.40,"i":5628},{"p":"24.0","q":3.45,"i":5618},{"p":"24.0","q":3.50,"i":5582},{"p":"24.0","q":3.55,"i":5594},{"p":"24.0","q":3.60,"i":5560},{"p":"24.0","q":3.65,"i":5571},{"p":"24.0","q":3.70,"i":5544},{"p":"24.0","q":3.75,"i":5569},{"p":"24.0","q":3.80,"i":5555},{"p":"24.0","q":3.85,"i":5583},{"p":"24.0","q":3.90,"i":5558},{"p":"24.0","q":3.95,"i":5583},{"p":"24.0","q":4.00,"i":5572},{"p":"24.0","q":4.05,"i":5604},{"p":"24.0","q":4.10,"i":5590},{"p":"24.0","q":4.15,"i":5628},{"p":"24.0","q":4.20,"i":5610},{"p":"24.0","q":4.25,"i":5648},{"p":"24.0","q":4.30,"i":5632},{"p":"24.0","q":4.35,"i":5663},{"p":"24.0","q":4.40,"i":5638},{"p":"24.0","q":4.45,"i":5654},{"p":"24.0","q":4.50,"i":5634},{"p":"24.0","q":4.55,"i":5641},{"p":"24.0","q":4.60,"i":5600},{"p":"24.0","q":4.65,"i":5605},{"p":"24.0","q":4.70,"i":5568},{"p":"24.0","q":4.75,"i":5583},{"p":"24.0","q":4.80,"i":5538},{"p":"24.0","q":4.85,"i":5538},{"p":"24.0","q":4.90,"i":5496},{"p":"24.0","q":4.95,"i":5509},{"p":"24.0","q":5.00,"i":5470},{"p":"24.0","q":5.08,"i":5476},{"p":"24.0","q":5.15,"i":5428},{"p":"24.0","q":5.22,"i":5438},{"p":"24.0","q":5.30,"i":5388},{"p":"24.0","q":5.37,"i":5400},{"p":"24.0","q":5.45,"i":5358},{"p":"24.0","q":5.52,"i":5372},{"p":"24.0","q":5.60,"i":5330},{"p":"24.0","q":5.68,"i":5344},{"p":"24.0","q":5.75,"i":5308},{"p":"24.0","q":5.82,"i":5328},{"p":"24.0","q":5.90,"i":5296},{"p":"24.0","q":6.00,"i":5310},{"p":"24.0","q":6.08,"i":5282},{"p":"24.0","q":6.15,"i":5306},{"p":"24.0","q":6.22,"i":5274},{"p":"24.0","q":6.30,"i":5292},{"p":"24.0","q":6.37,"i":5263},{"p":"24.0","q":6.45,"i":5284},{"p":"24.0","q":6.52,"i":5256},{"p":"24.0","q":6.60,"i":5280},{"p":"24.0","q":6.68,"i":5252},{"p":"24.0","q":6.75,"i":5272},{"p":"24.0","q":6.82,"i":5245},{"p":"24.0","q":6.90,"i":5262},{"p":"24.0","q":7.00,"i":5238},{"p":"24.0","q":7.08,"i":5256},{"p":"24.0","q":7.15,"i":5230},{"p":"24.0","q":7.22,"i":5250},{"p":"24.0","q":7.30,"i":5226},{"p":"24.0","q":7.38,"i":5244},{"p":"24.0","q":7.45,"i":5222},{"p":"24.0","q":7.52,"i":5240},{"p":"24.0","q":7.60,"i":5216},{"p":"24.0","q":7.72,"i":5230},{"p":"24.0","q":7.84,"i":5210},

{"p":"30.4","q":2.26,"i":5890},{"p":"30.4","q":2.30,"i":5910},{"p":"30.4","q":2.35,"i":5950},{"p":"30.4","q":2.40,"i":6020},{"p":"30.4","q":2.45,"i":6110},{"p":"30.4","q":2.50,"i":6250},{"p":"30.4","q":2.55,"i":6430},{"p":"30.4","q":2.60,"i":6640},{"p":"30.4","q":2.63,"i":6790},{"p":"30.4","q":2.65,"i":6900},{"p":"30.4","q":2.68,"i":7040},{"p":"30.4","q":2.70,"i":7150},{"p":"30.4","q":2.72,"i":7200},{"p":"30.4","q":2.73,"i":7215},{"p":"30.4","q":2.75,"i":7170},{"p":"30.4","q":2.76,"i":7150},{"p":"30.4","q":2.78,"i":7200},{"p":"30.4","q":2.80,"i":7230},{"p":"30.4","q":2.83,"i":7250},{"p":"30.4","q":2.85,"i":7200},{"p":"30.4","q":2.87,"i":7120},{"p":"30.4","q":2.89,"i":7040},{"p":"30.4","q":2.91,"i":6950},{"p":"30.4","q":2.93,"i":6870},{"p":"30.4","q":2.95,"i":6800},{"p":"30.4","q":2.97,"i":6720},{"p":"30.4","q":2.99,"i":6640},{"p":"30.4","q":3.01,"i":6600},{"p":"30.4","q":3.03,"i":6560},{"p":"30.4","q":3.05,"i":6510},{"p":"30.4","q":3.08,"i":6450},{"p":"30.4","q":3.10,"i":6420},{"p":"30.4","q":3.13,"i":6370},{"p":"30.4","q":3.16,"i":6340},{"p":"30.4","q":3.19,"i":6290},{"p":"30.4","q":3.22,"i":6288},{"p":"30.4","q":3.25,"i":6248},{"p":"30.4","q":3.28,"i":6252},{"p":"30.4","q":3.32,"i":6208},{"p":"30.4","q":3.36,"i":6212},{"p":"30.4","q":3.40,"i":6178},{"p":"30.4","q":3.45,"i":6180},{"p":"30.4","q":3.50,"i":6140},{"p":"30.4","q":3.55,"i":6158},{"p":"30.4","q":3.60,"i":6128},{"p":"30.4","q":3.65,"i":6140},{"p":"30.4","q":3.70,"i":6108},{"p":"30.4","q":3.75,"i":6120},{"p":"30.4","q":3.80,"i":6092},{"p":"30.4","q":3.85,"i":6118},{"p":"30.4","q":3.90,"i":6100},{"p":"30.4","q":3.95,"i":6120},{"p":"30.4","q":4.00,"i":6102},{"p":"30.4","q":4.05,"i":6132},{"p":"30.4","q":4.10,"i":6122},{"p":"30.4","q":4.15,"i":6152},{"p":"30.4","q":4.20,"i":6140},{"p":"30.4","q":4.25,"i":6172},{"p":"30.4","q":4.30,"i":6160},{"p":"30.4","q":4.35,"i":6192},{"p":"30.4","q":4.40,"i":6180},{"p":"30.4","q":4.45,"i":6196},{"p":"30.4","q":4.50,"i":6170},{"p":"30.4","q":4.55,"i":6180},{"p":"30.4","q":4.60,"i":6150},{"p":"30.4","q":4.65,"i":6160},{"p":"30.4","q":4.70,"i":6130},{"p":"30.4","q":4.75,"i":6136},{"p":"30.4","q":4.80,"i":6100},{"p":"30.4","q":4.85,"i":6110},{"p":"30.4","q":4.90,"i":6080},{"p":"30.4","q":4.95,"i":6094},{"p":"30.4","q":5.00,"i":6070},{"p":"30.4","q":5.08,"i":6080},{"p":"30.4","q":5.15,"i":6050},{"p":"30.4","q":5.22,"i":6066},{"p":"30.4","q":5.30,"i":6040},{"p":"30.4","q":5.37,"i":6040},{"p":"30.4","q":5.45,"i":6002},{"p":"30.4","q":5.52,"i":6010},{"p":"30.4","q":5.60,"i":5980},{"p":"30.4","q":5.68,"i":5986},{"p":"30.4","q":5.75,"i":5950},{"p":"30.4","q":5.82,"i":5956},{"p":"30.4","q":5.90,"i":5920},{"p":"30.4","q":6.00,"i":5930},{"p":"30.4","q":6.08,"i":5895},{"p":"30.4","q":6.15,"i":5898},{"p":"30.4","q":6.22,"i":5862},{"p":"30.4","q":6.30,"i":5858},{"p":"30.4","q":6.37,"i":5836},{"p":"30.4","q":6.45,"i":5848},{"p":"30.4","q":6.52,"i":5842},{"p":"30.4","q":6.60,"i":5868},{"p":"30.4","q":6.68,"i":5848},{"p":"30.4","q":6.75,"i":5860},{"p":"30.4","q":6.82,"i":5842},{"p":"30.4","q":6.90,"i":5858},{"p":"30.4","q":6.96,"i":5875},{"p":"30.4","q":7.00,"i":5855},{"p":"30.4","q":7.08,"i":5850},{"p":"30.4","q":7.15,"i":5824},{"p":"30.4","q":7.22,"i":5840},{"p":"30.4","q":7.30,"i":5822},{"p":"30.4","q":7.38,"i":5836},{"p":"30.4","q":7.45,"i":5818},{"p":"30.4","q":7.52,"i":5830},{"p":"30.4","q":7.60,"i":5814},{"p":"30.4","q":7.72,"i":5826},{"p":"30.4","q":7.84,"i":5815}
],
"labels": [
{"q":8.09,"i":5810,"t":"30.4 GPa"},{"q":8.09,"i":5229,"t":"24.0 GPa"},{"q":8.09,"i":4591,"t":"18.3 GPa"},{"q":8.09,"i":3935,"t":"14.1 GPa"},{"q":8.09,"i":3298,"t":"10.2 GPa"},{"q":8.09,"i":2567,"t":"8.5 GPa"},{"q":8.09,"i":1874,"t":"6.4 GPa"},{"q":8.09,"i":1274,"t":"5.0 GPa"},{"q":8.09,"i":787,"t":"3.2 GPa"},{"q":8.09,"i":169,"t":"0.0 GPa"}
],
"heading": [{"q":5.39,"i":7420,"t":"BMG (Vitreloy 106)"}],
"majorgrid": [{"q":3},{"q":4},{"q":5},{"q":6},{"q":7},{"q":8}],
"minorgrid": [{"q":2.5},{"q":3.5},{"q":4.5},{"q":5.5},{"q":6.5},{"q":7.5},{"q":8.5}]
},
"layer": [
{
"data": {"name": "minorgrid"},
"mark": {"type": "rule", "color": "#e2eeea", "strokeWidth": 1},
"encoding": {"x": {"field": "q", "type": "quantitative", "axis": null}}
},
{
"data": {"name": "majorgrid"},
"mark": {"type": "rule", "color": "#8686e8", "strokeWidth": 1},
"encoding": {"x": {"field": "q", "type": "quantitative", "axis": null}}
},
{
"data": {"name": "curves"},
"mark": {"type": "line", "strokeWidth": 1},
"encoding": {
"x": {"field": "q", "type": "quantitative",
 "scale": {"domain": [2.2, 9], "nice": false, "zero": false},
 "axis": {"orient": "bottom", "title": "Q [Å⁻¹]", "values": [3,4,5,6,7,8,9], "format": "d",
  "labelOverlap": false, "grid": false,
  "domainColor": "#333333", "tickColor": "#333333", "tickSize": 6,
  "labelFontSize": 16, "labelColor": "#333333", "labelPadding": 5, "labelFlush": false,
  "titleFontSize": 17, "titleFontWeight": "normal", "titleColor": "#222222", "titlePadding": 22}},
"y": {"field": "i", "type": "quantitative",
 "scale": {"domain": [0, 8000], "nice": false},
 "axis": {"orient": "left", "title": "Intensity\u00a0 [cmon]", "values": [0,2000,4000,6000,8000], "format": "d",
  "labelOverlap": false, "grid": false,
  "domainColor": "#333333", "tickColor": "#333333", "tickSize": 6,
  "labelFontSize": 18, "labelColor": "#333333", "labelPadding": 7, "labelFlush": false,
  "titleFontSize": 19, "titleFontWeight": "normal", "titleColor": "#222222", "titlePadding": 16, "titleY": 228}},
"color": {"field": "p", "type": "nominal",
 "scale": {"domain": ["0.0","3.2","5.0","6.4","8.5","10.2","14.1","18.3","24.0","30.4"],
  "range": ["#2a2a2a","#ee6040","#2f9c40","#3a3ad8","#8a4ca8","#e048e6","#4646e0","#ee6040","#2a2a2a","#b068cc"]},
 "legend": null}
}
},
{
"data": {"name": "labels"},
"mark": {"type": "text", "align": "left", "baseline": "middle", "fontSize": 16, "color": "#222222"},
"encoding": {
"x": {"field": "q", "type": "quantitative", "axis": null},
"y": {"field": "i", "type": "quantitative", "axis": null},
"text": {"field": "t"}
}
},
{
"data": {"name": "heading"},
"mark": {"type": "text", "align": "center", "baseline": "middle", "fontSize": 17.5, "fontWeight": "bold", "color": "#111111"},
"encoding": {
"x": {"field": "q", "type": "quantitative",
 "axis": {"orient": "bottom", "title": null, "values": [2.5,3.5,4.5,5.5,6.5,7.5,8.5], "labels": false, "domain": false, "grid": false, "tickSize": 4, "tickColor": "#333333"}},
"y": {"field": "i", "type": "quantitative",
 "axis": {"orient": "left", "title": null, "values": [1000,3000,5000,7000], "labels": false, "domain": false, "grid": false, "tickSize": 4, "tickColor": "#333333"}},
"text": {"field": "t"}
}
}
]
}
